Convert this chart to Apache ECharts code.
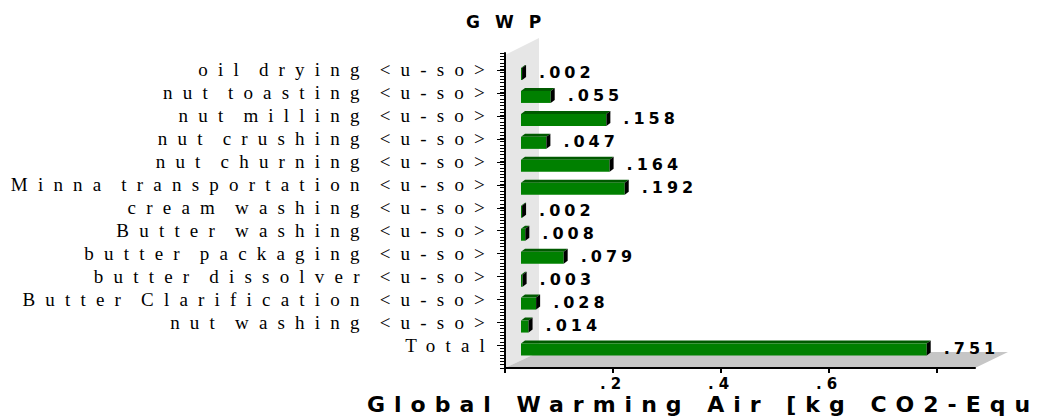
<!DOCTYPE html>
<html>
<head>
<meta charset="utf-8">
<script src="https://cdn.jsdelivr.net/npm/echarts@6/dist/echarts.min.js"></script>
<style>
  html, body { margin: 0; padding: 0; background: #fff; }
  #chart { width: 1039px; height: 417px; }
  /* wide letter spacing, one value per kind of text */
  #chart text[style*="Liberation Serif"] { letter-spacing: 10.2px; word-spacing: -5px; }
  #chart text[style*="Verdana"] { letter-spacing: 4px; }
  #chart text[style*="Tahoma"] { letter-spacing: 5px; }
  #chart text[style*="Geneva"] { letter-spacing: 15px; }
  #chart text[style*="Helvetica"] { letter-spacing: 9px; }
</style>
</head>
<body>
<div id="chart"></div>
<script>
// Process contributions to global warming
const categories = [
  'oil drying <u-so>',
  'nut toasting <u-so>',
  'nut milling <u-so>',
  'nut crushing <u-so>',
  'nut churning <u-so>',
  'Minna transportation <u-so>',
  'cream washing <u-so>',
  'Butter washing <u-so>',
  'butter packaging <u-so>',
  'butter dissolver <u-so>',
  'Butter Clarification <u-so>',
  'nut washing <u-so>',
  'Total'
];
const gwpValues = [0.002, 0.055, 0.158, 0.047, 0.164, 0.192, 0.002, 0.008, 0.079, 0.003, 0.028, 0.014, 0.751];
const xTickMarks = [0, 0.2, 0.4, 0.6, 0.8];
const xTickLabels = [0.2, 0.4, 0.6];
const chartTitle = 'GWP';
const axisCaption = 'Global Warming Air [kg CO2-Equ';

// layout of the pseudo-3D box
const X_MAX = 0.87;
const BAR_INSET = 16;      // bars stand on the back wall, shifted right of the axis origin
const BAR_DROP = 2.5;      // bars sit slightly below their row label
const DEPTH_X = 34, DEPTH_Y = 16;
const FACE_DX = 4, FACE_DY = 3;

const dropZero = s => s.replace(/^0(?=\.)/, '');
const fmtValue = v => dropZero(v.toFixed(3));
const fmtTick = v => dropZero(String(v));

const chart = echarts.init(document.getElementById('chart'), null, { renderer: 'svg' });

chart.setOption({
  animation: false,
  backgroundColor: '#fff',
  title: [
    {
      text: chartTitle, left: 466, top: 13, padding: 0,
      textStyle: { fontFamily: 'DejaVu Sans, Geneva', fontWeight: 'bold', fontSize: 17, color: '#000' }
    },
    {
      text: axisCaption, left: 367, top: 393, padding: 0,
      textStyle: { fontFamily: 'DejaVu Sans, Helvetica', fontWeight: 'bold', fontSize: 22, color: '#000' }
    }
  ],
  grid: [
    { left: 505, right: 64, top: 53, bottom: 49 },      // axis frame, wall and floor
    { left: 505, right: 64, top: 58.5, bottom: 60 }     // bar rows
  ],
  xAxis: [
    {
      gridIndex: 0, type: 'value', min: 0, max: X_MAX, interval: 0.2,
      splitLine: { show: false },
      axisLine: { onZero: false, lineStyle: { color: '#000', width: 2 } },
      axisTick: { customValues: xTickMarks, length: 5, lineStyle: { color: '#000', width: 2 } },
      axisLabel: {
        customValues: xTickLabels, formatter: fmtTick, margin: 8,
        fontFamily: 'DejaVu Sans, Tahoma', fontWeight: 'bold', fontSize: 15, color: '#000'
      }
    },
    { gridIndex: 1, type: 'value', min: 0, max: X_MAX, show: false }
  ],
  yAxis: [
    {
      gridIndex: 0, type: 'value', inverse: true, min: 0, max: 96, interval: 1,
      splitLine: { show: false },
      axisLine: { show: true, onZero: false, lineStyle: { color: '#000', width: 2 } },
      axisTick: { show: true, length: 5, lineStyle: { color: '#000', width: 1 } },
      axisLabel: { show: false }
    },
    {
      gridIndex: 1, type: 'category', inverse: true, data: categories,
      axisLine: { show: false },
      axisTick: { show: true, alignWithLabel: true, length: 8, lineStyle: { color: '#000', width: 1 } },
      axisLabel: {
        interval: 0, margin: 10,
        fontFamily: 'Liberation Serif', fontSize: 19, color: '#000'
      }
    }
  ],
  series: [
    {
      // grey back wall and floor of the box
      type: 'custom', xAxisIndex: 0, yAxisIndex: 0, z: -1, silent: true, clip: false,
      data: [[0, 0]],
      renderItem(params) {
        const c = params.coordSys;
        const x = c.x, y = c.y, w = c.width, h = c.height;
        return {
          type: 'group',
          children: [
            {
              type: 'polygon',
              shape: { points: [[x, y + 2], [x + DEPTH_X, y + 2 - DEPTH_Y - 1], [x + DEPTH_X, y + h - DEPTH_Y], [x, y + h]] },
              style: { fill: '#e6e6e6' }
            },
            {
              type: 'polygon',
              shape: { points: [[x, y + h], [x + DEPTH_X, y + h - DEPTH_Y], [x + w + DEPTH_X - 1, y + h - DEPTH_Y], [x + w, y + h]] },
              style: { fill: '#c6c6c6' }
            }
          ]
        };
      }
    },
    {
      type: 'custom', xAxisIndex: 1, yAxisIndex: 1, clip: false,
      data: gwpValues.map((v, i) => [v, i]),
      encode: { x: 0, y: 1 },
      renderItem(params, api) {
        const v = api.value(0);
        const idx = api.value(1);
        const end = api.coord([v, idx]);
        const start = api.coord([0, idx]);
        const yc = end[1] + BAR_DROP;
        const left = start[0] + BAR_INSET;
        const right = end[0] + BAR_INSET;
        const top = yc - 4.5, bottom = yc + 7.5;
        return {
          type: 'group',
          children: [
            {
              type: 'polygon',
              shape: { points: [[left, top], [left + FACE_DX, top - FACE_DY], [right + FACE_DX, top - FACE_DY], [right, top]] },
              style: { fill: '#005a00' }
            },
            {
              type: 'rect',
              shape: { x: left, y: top, width: Math.max(right - left, 1), height: bottom - top },
              style: { fill: '#008000' }
            },
            {
              type: 'polygon',
              shape: { points: [[right, top], [right + FACE_DX, top - FACE_DY], [right + FACE_DX, bottom - FACE_DY], [right, bottom]] },
              style: { fill: '#000' }
            },
            {
              type: 'text',
              style: {
                text: fmtValue(v), x: right + FACE_DX + 13, y: yc,
                align: 'left', verticalAlign: 'middle',
                font: 'bold 16px DejaVu Sans, Verdana', fill: '#000'
              }
            }
          ]
        };
      }
    }
  ]
});
</script>
</body>
</html>
